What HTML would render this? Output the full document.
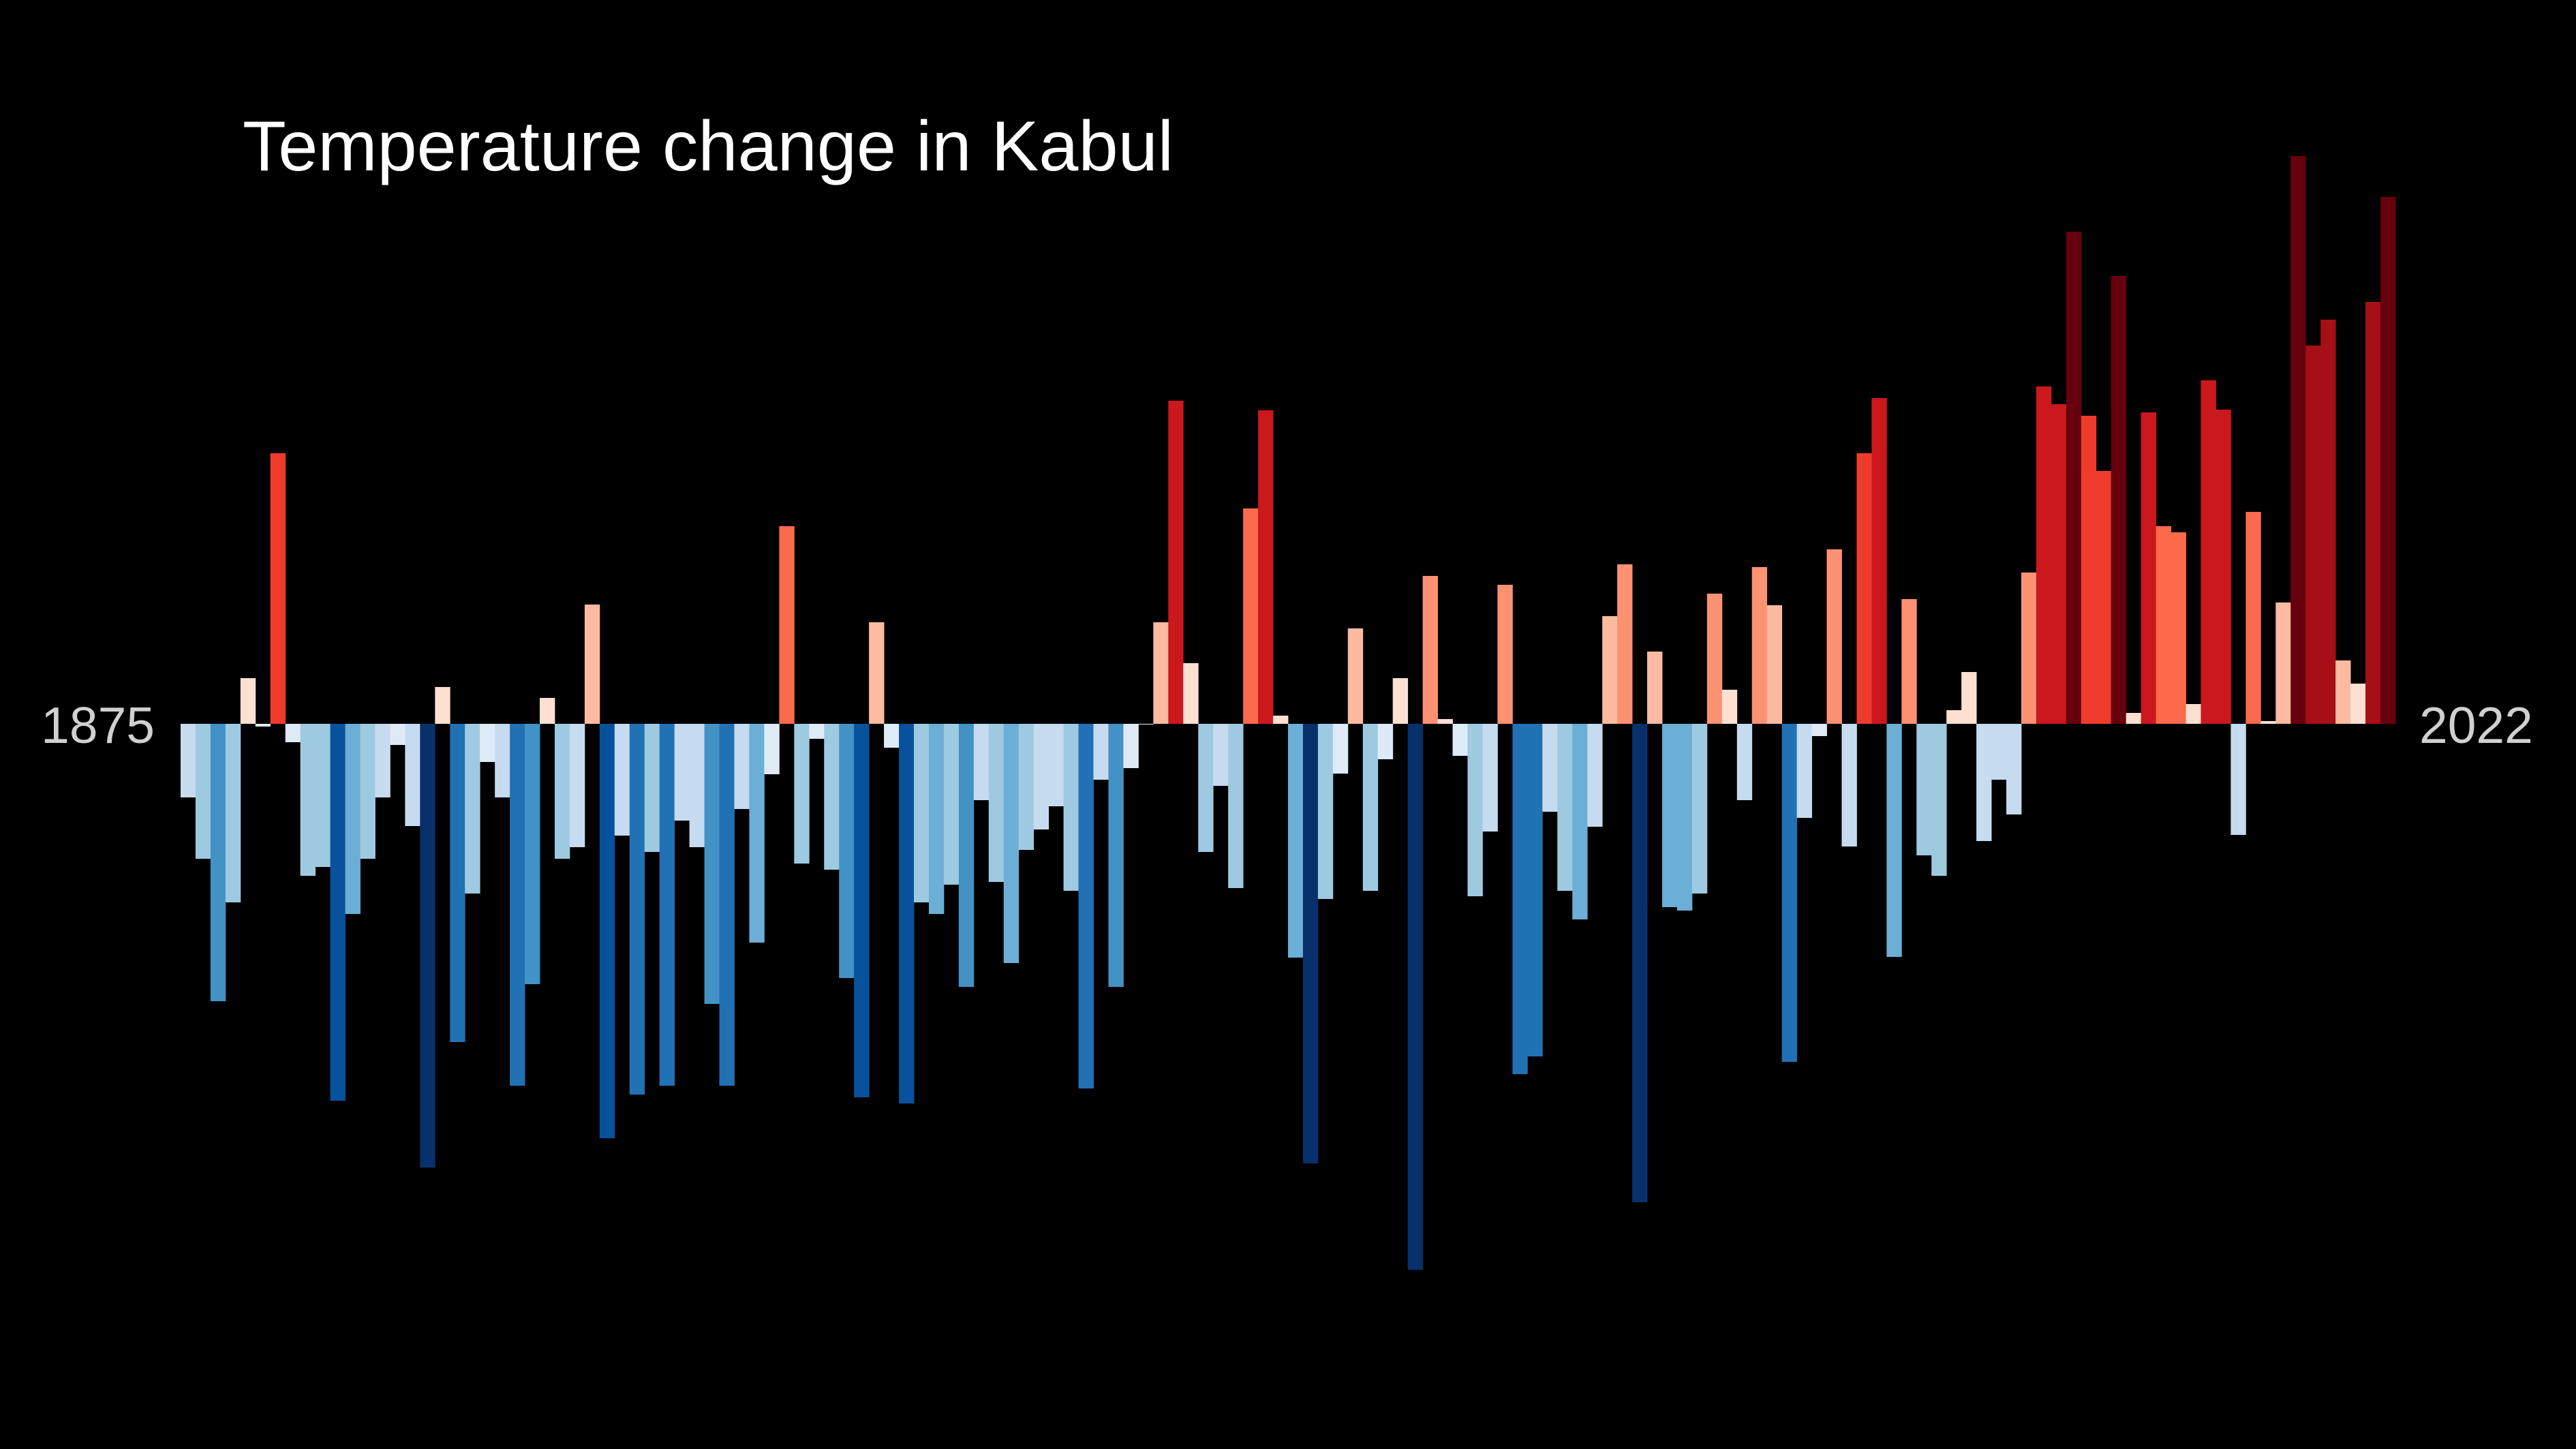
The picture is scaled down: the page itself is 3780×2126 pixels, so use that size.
<!DOCTYPE html>
<html><head><meta charset="utf-8"><style>
html,body{margin:0;padding:0;background:#000;}
svg{display:block;}
text{font-family:"Liberation Sans",Arial,sans-serif;}
</style></head><body>
<svg id="chart" width="3780" height="2126" viewBox="0 0 3780 2126" xmlns="http://www.w3.org/2000/svg">
<rect width="3780" height="2126" fill="#000"/>
<text x="356" y="250" font-size="104" fill="#ffffff" textLength="1366" lengthAdjust="spacingAndGlyphs">Temperature change in Kabul</text>
<text x="227" y="1090" font-size="75" fill="#d0d0d0" text-anchor="end">1875</text>
<text x="3550" y="1090" font-size="75" fill="#d0d0d0">2022</text>
<g id="bars"></g>
</svg>
<script>
const startYear = 1875;
const anomalies = [
-1.08,-1.98,-4.07,-2.62,0.67,-0.04,3.97,-0.27,-2.23,-2.10,
-5.53,-2.79,-1.98,-1.08,-0.31,-1.50,-6.51,0.54,-4.67,-2.49,
-0.56,-1.08,-5.31,-3.82,0.38,-1.98,-1.81,1.75,-6.08,-1.64,
-5.44,-1.88,-5.31,-1.42,-1.81,-4.11,-5.31,-1.25,-3.21,-0.74,
2.90,-2.05,-0.22,-2.14,-3.73,-5.48,1.49,-0.35,-5.57,-2.62,
-2.79,-2.36,-3.86,-1.12,-2.32,-3.51,-1.85,-1.55,-1.21,-2.45,
-5.35,-0.82,-3.86,-0.65,-0.01,1.49,4.74,0.89,-1.88,-0.91,
-2.41,3.16,4.60,0.12,-3.43,-6.45,-2.57,-0.73,1.40,-2.45,
-0.52,0.67,-8.01,2.17,0.07,-0.47,-2.53,-1.58,2.04,-5.14,
-4.88,-1.29,-2.45,-2.87,-1.51,1.58,2.34,-7.02,1.06,-2.69,
-2.74,-2.49,1.91,0.50,-1.12,2.30,1.74,-4.96,-1.38,-0.18,
2.56,-1.80,3.97,4.78,-3.42,1.83,-1.93,-2.23,0.20,0.76,
-1.72,-0.82,-1.33,2.22,4.95,4.69,7.22,4.52,3.71,6.57,
0.16,4.57,2.90,2.81,0.29,5.04,4.61,-1.63,3.11,0.04,
1.78,8.33,5.55,5.93,0.93,0.59,6.19,7.73
];
const blueThresholds = [-0.78,-1.85,-2.65,-3.60,-4.60,-5.46,-6.30];
const blueColors = ["#deebf7","#c6dbef","#9ecae1","#6baed6","#4292c6","#2171b5","#08519c","#08306b"];
const redThresholds = [0.90,1.80,2.70,3.60,4.55,5.45,6.40];
const redColors = ["#fee0d2","#fcbba1","#fc9272","#fb6a4a","#ef3b2c","#cb181d","#a50f15","#67000d"];

const X0 = 265, X1 = 3515, BASE = 1062, PX_PER_UNIT = 100;
const n = anomalies.length;
const step = (X1 - X0) / n;
function xScale(i){ return X0 + i * step; }
function yScale(v){ return BASE - v * PX_PER_UNIT; }
function colorFor(v){
  if (v >= 0){ let k=0; while(k<redThresholds.length && v>=redThresholds[k]) k++; return redColors[k]; }
  let k=0; while(k<blueThresholds.length && v<=blueThresholds[k]) k++; return blueColors[k];
}
const g = document.getElementById('bars');
const NS = "http://www.w3.org/2000/svg";
anomalies.forEach((v,i)=>{
  const r = document.createElementNS(NS,'rect');
  const y0 = yScale(0), y1 = yScale(v);
  r.setAttribute('x', xScale(i));
  r.setAttribute('width', step + 0.4);
  r.setAttribute('y', Math.min(y0,y1));
  r.setAttribute('height', Math.max(Math.abs(y1-y0), 1));
  r.setAttribute('fill', colorFor(v));
  
  
  g.appendChild(r);
});
</script>
</body></html>
